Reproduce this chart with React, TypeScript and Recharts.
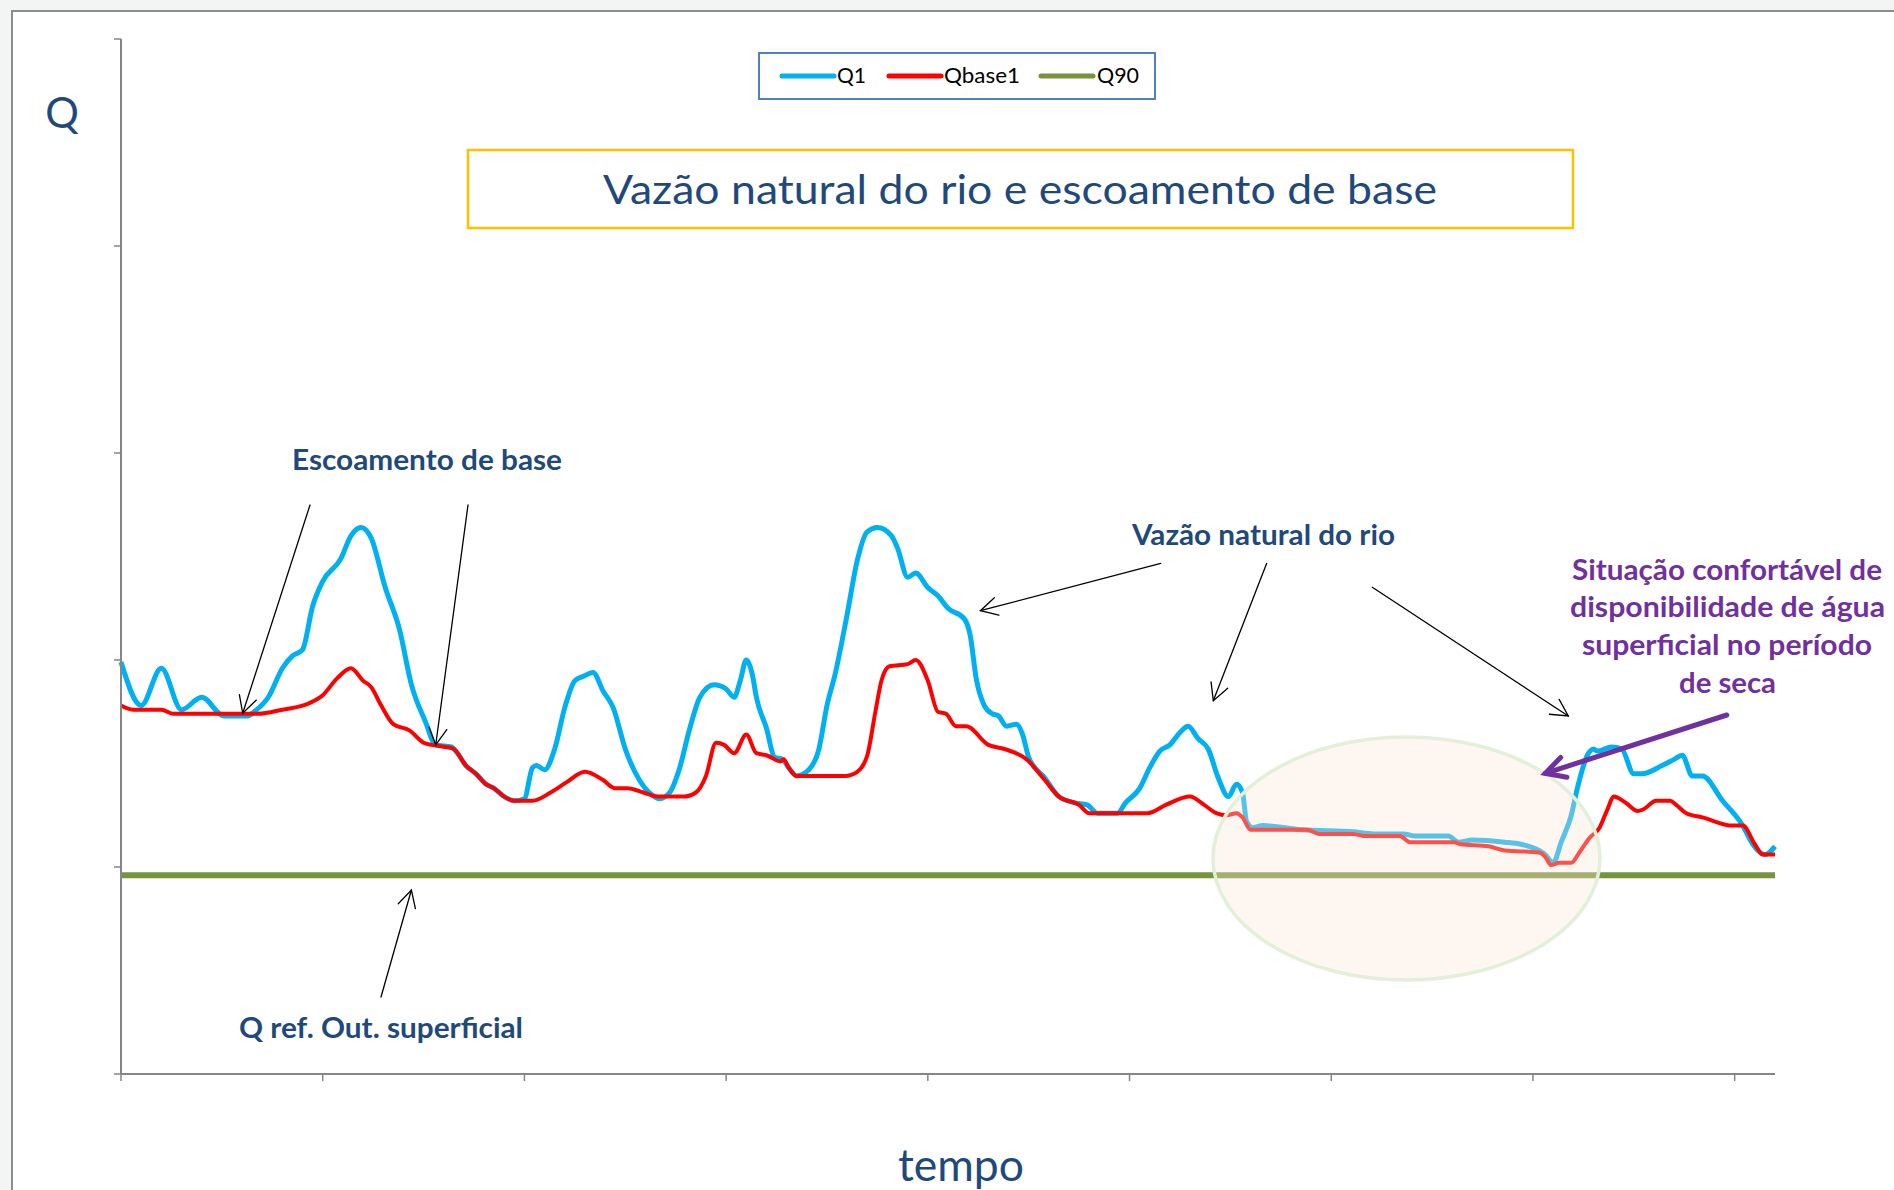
import React from "react";
import { LineChart, Line, XAxis, YAxis } from "recharts";

// time axis (arbitrary units, one tick every 10) and flows (one y tick = 1 unit)
const q1Time = [
  0, 1.0, 2.0, 3.0, 4.0, 5.1, 6.3, 6.6, 7.3, 8.0, 8.5, 9.0, 9.5, 10.0, 10.9, 11.4, 11.9, 12.4, 13.1, 13.8,
  14.4, 15.1, 15.6, 16.4, 16.6, 17.1, 17.6, 18.1, 18.5, 19.0, 19.5, 20.0, 20.4, 20.6, 21.0, 21.5, 22.0, 22.5,
  22.9, 23.4, 23.9, 24.4, 25.0, 25.7, 26.3, 26.7, 27.2, 27.7, 28.2, 28.7, 29.4, 30.0, 30.4, 30.7, 31.0, 31.3,
  31.5, 32.0, 32.4, 32.8, 33.1, 33.5, 34.1, 34.6, 35.0, 35.4, 36.0, 36.5, 37.0, 37.5, 38.2, 38.5, 39.0, 39.4,
  40.0, 40.5, 41.0, 41.8, 42.1, 42.4, 42.8, 43.2, 43.5, 43.9, 44.4, 44.7, 45.0, 45.8, 46.5, 47.3, 47.9, 48.4,
  49.4, 49.8, 50.5, 51.0, 51.5, 52.0, 52.5, 52.9, 53.4, 53.9, 54.4, 54.9, 55.3, 55.6, 55.8, 56.1, 56.6, 58.5,
  61.1, 62.1, 63.6, 64.1, 65.8, 66.3, 67.0, 68.6, 69.4, 70.3, 70.6, 71.0, 71.4, 71.9, 72.2, 72.7, 73.0, 73.2,
  73.9, 74.4, 75.0, 75.4, 76.4, 77.0, 77.4, 77.9, 78.4, 79.4, 80.4, 80.9, 81.5, 82.0,
];
const q1Flow = [
  1.99, 1.78, 1.96, 1.76, 1.82, 1.73, 1.73, 1.75, 1.82, 1.96, 2.02, 2.05, 2.26, 2.38, 2.49, 2.6, 2.64, 2.59, 2.35, 2.15,
  1.88, 1.7, 1.59, 1.58, 1.56, 1.49, 1.45, 1.4, 1.38, 1.34, 1.32, 1.33, 1.48, 1.49, 1.47, 1.57, 1.77, 1.9,
  1.92, 1.94, 1.85, 1.77, 1.57, 1.42, 1.35, 1.33, 1.36, 1.48, 1.67, 1.82, 1.88, 1.86, 1.82, 1.9, 2.0, 1.93,
  1.82, 1.67, 1.53, 1.52, 1.48, 1.44, 1.47, 1.57, 1.78, 1.93, 2.22, 2.48, 2.62, 2.64, 2.6, 2.54, 2.4, 2.42,
  2.35, 2.31, 2.25, 2.2, 2.12, 1.91, 1.78, 1.74, 1.73, 1.68, 1.69, 1.64, 1.53, 1.43, 1.34, 1.31, 1.3, 1.26,
  1.26, 1.31, 1.38, 1.48, 1.56, 1.59, 1.65, 1.68, 1.62, 1.57, 1.43, 1.34, 1.4, 1.36, 1.22, 1.19, 1.2, 1.18,
  1.17, 1.16, 1.16, 1.15, 1.15, 1.12, 1.13, 1.12, 1.11, 1.08, 1.06, 1.02, 1.12, 1.25, 1.38, 1.54, 1.57, 1.56,
  1.58, 1.57, 1.45, 1.45, 1.49, 1.52, 1.54, 1.44, 1.44, 1.32, 1.2, 1.11, 1.06, 1.1,
];

const baseTime = [
  0, 0.6, 2.0, 2.6, 6.8, 8.0, 9.3, 10.0, 10.7, 11.4, 12.0, 12.4, 12.9, 13.5, 14.3, 15.0, 15.4, 16.1, 16.5,
  17.1, 17.6, 18.1, 18.5, 19.0, 19.5, 20.4, 21.3, 22.1, 23.0, 23.9, 24.5, 25.1, 25.9, 26.6, 27.9, 28.5, 29.0,
  29.5, 29.9, 30.4, 31.0, 31.5, 32.0, 32.7, 32.85, 33.1, 33.5, 33.8, 35.9, 36.5, 37.0, 37.4, 37.7, 38.1, 39.0,
  39.4, 40.0, 40.5, 40.9, 41.4, 41.9, 43.0, 43.8, 44.9, 45.8, 46.5, 47.5, 48.0, 49.8, 50.9, 51.8, 53.0, 53.7,
  54.3, 54.8, 55.3, 55.6, 56.0, 56.5, 58.8, 59.4, 61.1, 61.6, 63.4, 63.9, 66.1, 66.4, 67.8, 68.6, 70.3, 70.6,
  70.9, 71.3, 71.9, 72.3, 72.8, 73.3, 73.7, 74.0, 74.6, 75.2, 75.5, 76.1, 76.8, 77.1, 77.6, 78.4, 79.9, 80.4,
  81.0, 81.4, 82.0,
];
const baseFlow = [
  1.78, 1.76, 1.76, 1.74, 1.74, 1.76, 1.79, 1.83, 1.91, 1.96, 1.9, 1.87, 1.78, 1.69, 1.66, 1.6, 1.59, 1.58, 1.57,
  1.49, 1.45, 1.4, 1.38, 1.34, 1.32, 1.32, 1.36, 1.41, 1.46, 1.42, 1.38, 1.38, 1.36, 1.34, 1.34, 1.36, 1.44,
  1.6, 1.59, 1.55, 1.64, 1.55, 1.54, 1.51, 1.52, 1.48, 1.44, 1.44, 1.44, 1.46, 1.54, 1.75, 1.9, 1.97, 1.98,
  2.0, 1.9, 1.75, 1.74, 1.68, 1.68, 1.59, 1.57, 1.52, 1.42, 1.34, 1.3, 1.26, 1.26, 1.26, 1.3, 1.34, 1.3,
  1.26, 1.25, 1.26, 1.24, 1.18, 1.18, 1.18, 1.16, 1.16, 1.15, 1.15, 1.12, 1.12, 1.11, 1.1, 1.08, 1.07, 1.05,
  1.01, 1.02, 1.02, 1.07, 1.14, 1.19, 1.28, 1.34, 1.31, 1.27, 1.28, 1.32, 1.32, 1.3, 1.26, 1.24, 1.2, 1.2,
  1.11, 1.06, 1.06,
];

const q90Time = [0, 82];
const q90Flow = [0.96, 0.96];

const xTicks = [0, 10, 20, 30, 40, 50, 60, 70, 80];
const yTicks = [0, 1, 2, 3, 4, 5];

const SERIES = [
  { name: "Q1", color: "#00b0f0", width: 5 },
  { name: "Qbase1", color: "#ff0000", width: 4 },
  { name: "Q90", color: "#77933c", width: 6 },
];

const toPoints = (ts: number[], vs: number[]) => ts.map((t, i) => ({ t, v: vs[i] }));
const q1Data = toPoints(q1Time, q1Flow);
const baseData = toPoints(baseTime, baseFlow);
const q90Data = toPoints(q90Time, q90Flow);

const NAVY = "#1f497d";
const PURPLE = "#7030a0";
const FONT = "Lato, 'Open Sans', sans-serif";

// open arrowhead drawn at (x2, y2)
function Arrow({ x1, y1, x2, y2, color = "#000", width = 1.3, head = 19 }: any) {
  const a = Math.atan2(y2 - y1, x2 - x1);
  const s = (28 * Math.PI) / 180;
  const p1 = [x2 - head * Math.cos(a - s), y2 - head * Math.sin(a - s)];
  const p2 = [x2 - head * Math.cos(a + s), y2 - head * Math.sin(a + s)];
  return (
    <g stroke={color} strokeWidth={width} fill="none" strokeLinecap="round">
      <line x1={x1} y1={y1} x2={x2} y2={y2} />
      <polyline points={`${p1[0]},${p1[1]} ${x2},${y2} ${p2[0]},${p2[1]}`} />
    </g>
  );
}

function Label({ x, y, w, text, color = NAVY, size = 29, bold = true }: any) {
  return (
    <text x={x} y={y} textAnchor="middle" fill={color} fontSize={size} fontWeight={bold ? 700 : 400}
      fontFamily={FONT} textLength={w} lengthAdjust="spacingAndGlyphs">
      {text}
    </text>
  );
}

export default function App() {
  return (
    <div style={{ position: "absolute", left: 0, top: 0, width: 1894, height: 1190, overflow: "hidden", background: "#f3f4f4" }}>
      <div style={{ position: "absolute", left: 11, top: 10, width: 1950, height: 1250, background: "#fff", borderLeft: "2px solid #8c8c8c", borderTop: "2px solid #8c8c8c" }} />

      <div style={{ position: "absolute", left: 0, top: 0 }}>
        <LineChart width={1894} height={1190} margin={{ top: 39, right: 119, bottom: 86, left: 91 }}>
          <XAxis dataKey="t" type="number" domain={[0, 82]} ticks={xTicks} interval={0} height={30}
            axisLine={{ stroke: "#868686", strokeWidth: 2 }} tickLine={{ stroke: "#868686", strokeWidth: 1.5 }}
            tickSize={7} tickFormatter={() => ""} />
          <YAxis type="number" domain={[0, 5]} ticks={yTicks} interval={0} width={30}
            axisLine={{ stroke: "#868686", strokeWidth: 2 }} tickLine={{ stroke: "#868686", strokeWidth: 1.5 }}
            tickSize={7} tickFormatter={() => ""} />
          <Line data={q1Data} dataKey="v" name="Q1" type="monotone" stroke={SERIES[0].color} strokeWidth={SERIES[0].width}
            dot={false} activeDot={false} isAnimationActive={false} />
          <Line data={baseData} dataKey="v" name="Qbase1" type="monotone" stroke={SERIES[1].color} strokeWidth={SERIES[1].width}
            dot={false} activeDot={false} isAnimationActive={false} />
          <Line data={q90Data} dataKey="v" name="Q90" type="linear" stroke={SERIES[2].color} strokeWidth={SERIES[2].width}
            dot={false} activeDot={false} isAnimationActive={false} />
        </LineChart>
      </div>

      <svg width={1894} height={1190} style={{ position: "absolute", left: 0, top: 0, pointerEvents: "none" }}>
        {/* highlight of the dry period */}
        <ellipse cx={1406.5} cy={858.5} rx={193.5} ry={121.5} fill="#fbe5d6" fillOpacity={0.35} stroke="#e2efd9" strokeWidth={3.5} />

        {/* legend */}
        <rect x={759} y={53} width={396} height={46} fill="#fff" stroke="#4f81bd" strokeWidth={2} />
        {SERIES.map((s, i) => {
          const sx = [782, 889, 1041][i];
          const tx = [837, 944, 1097][i];
          const tw = [29, 76, 42][i];
          return (
            <g key={s.name}>
              <line x1={sx} y1={76} x2={sx + 52} y2={76} stroke={s.color} strokeWidth={5} strokeLinecap="round" />
              <text x={tx} y={83} fontSize={21} fontFamily={FONT} fill="#000" textLength={tw} lengthAdjust="spacingAndGlyphs">{s.name}</text>
            </g>
          );
        })}

        {/* title */}
        <rect x={468} y={150} width={1105} height={78} fill="#fff" stroke="#ffc000" strokeWidth={2.5} />
        <Label x={1020} y={204} w={834} text="Vazão natural do rio e escoamento de base" size={40} bold={false} />

        <Label x={62} y={128} text="Q" size={42} bold={false} />
        <Label x={961} y={1181} w={126} text="tempo" size={44} bold={false} />

        <Label x={427} y={470} w={270} text="Escoamento de base" />
        <Arrow x1={310} y1={505} x2={242.7} y2={713.3} />
        <Arrow x1={468} y1={505} x2={435.7} y2={745} />

        <Label x={381} y={1037.5} w={284} text="Q ref. Out. superficial" />
        <Arrow x1={381} y1={997} x2={411.4} y2={890} />

        <Label x={1263.5} y={545} w={263} text="Vazão natural do rio" />
        <Arrow x1={1160.7} y1={563.3} x2={980.4} y2={610.7} />
        <Arrow x1={1266.7} y1={563.3} x2={1213.3} y2={700.7} />
        <Arrow x1={1372.3} y1={587.3} x2={1568.3} y2={716} />

        <Label x={1727} y={580} w={310} text="Situação confortável de" color={PURPLE} />
        <Label x={1727.5} y={617} w={315} text="disponibilidade de água" color={PURPLE} />
        <Label x={1727} y={655} w={290} text="superficial no período" color={PURPLE} />
        <Label x={1727.5} y={693} w={97} text="de seca" color={PURPLE} />
        <Arrow x1={1726.8} y1={715} x2={1545.3} y2={773.3} color={PURPLE} width={5} head={22} />
      </svg>
    </div>
  );
}
